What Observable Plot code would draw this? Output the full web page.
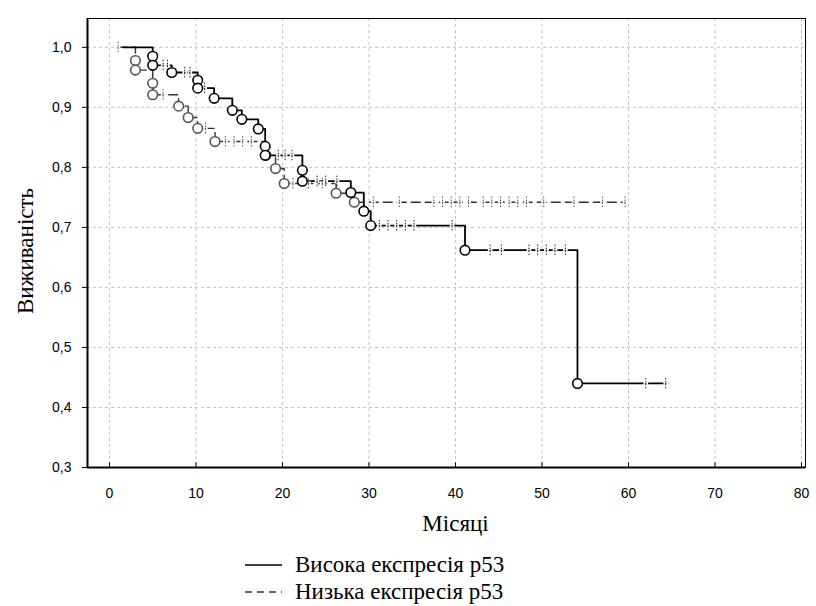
<!DOCTYPE html>
<html><head><meta charset="utf-8">
<script src="https://cdn.jsdelivr.net/npm/d3@7"></script>
<script src="https://cdn.jsdelivr.net/npm/@observablehq/plot@0.6"></script>
<style>
body{margin:0;background:#fff;}
#wrap{position:relative;width:816px;height:606px;background:#fff;}
.leg{position:absolute;font-family:"Liberation Serif","Times New Roman",serif;font-size:23px;line-height:26px;color:#000;display:flex;align-items:center;white-space:nowrap;}
.leg svg{margin-right:12px;}
</style></head><body>
<div id="wrap"><div id="chart"></div>
<div class="leg" style="left:245px;top:552px"><svg width="38" height="26"><line x1="0" x2="37" y1="13" y2="13" stroke="#000" stroke-width="1.6"/></svg><span id="l1"></span></div>
<div class="leg" style="left:245px;top:579px"><svg width="38" height="26"><line x1="0" x2="37" y1="13" y2="13" stroke="#333" stroke-width="1.4" stroke-dasharray="7,5"/></svg><span id="l2"></span></div>
</div>
<script>
// ---- data ----
const monthTicks = [0, 10, 20, 30, 40, 50, 60, 70, 80];
const survTicks = [0.3, 0.4, 0.5, 0.6, 0.7, 0.8, 0.9, 1.0];
const xTitle = "Місяці";
const yTitle = "Виживаність";
const highLabel = "Висока експресія p53";
const lowLabel = "Низька експресія p53";

// High p53 expression (solid)
const highStart = 1.6, highEnd = 64.5;
const highEventT = [5.0, 5.0, 7.2, 10.2, 10.2, 12.1, 14.2, 15.3, 17.2, 18.0, 18.0, 22.3, 22.3, 27.9, 29.4, 30.2, 41.1, 54.1];
const highEventS = [0.985, 0.970, 0.958, 0.945, 0.932, 0.915, 0.895, 0.880, 0.864, 0.835, 0.820, 0.795, 0.777, 0.758, 0.727, 0.703, 0.662, 0.440];
const highCensorT = [6.2, 6.7, 8.7, 9.3, 11.0, 19.5, 20.3, 21.1, 24.0, 25.0, 26.3, 31.2, 32.2, 33.2, 34.2, 35.2, 39.6, 44.0, 45.3, 48.5, 49.5, 50.5, 51.5, 52.7, 62.0, 64.3];

// Low p53 expression (dashed)
const lowStart = 1.0, lowEnd = 59.8;
const lowEventT = [3.0, 3.0, 5.0, 5.0, 8.0, 9.1, 10.2, 12.2, 18.1, 19.2, 20.2, 26.2, 28.3];
const lowEventS = [0.978, 0.962, 0.940, 0.921, 0.902, 0.883, 0.865, 0.843, 0.820, 0.798, 0.773, 0.757, 0.742];
const lowCensorT = [1.0, 6.2, 11.1, 13.4, 14.4, 15.4, 16.4, 21.2, 23.0, 24.6, 30.5, 33.5, 37.5, 38.5, 39.5, 40.5, 41.5, 43.2, 44.2, 45.2, 46.2, 47.2, 48.2, 50.2, 53.7, 57.0, 59.6];

// ---- build ----
function levelAt(t, evT, evS) { let s = 1; evT.forEach((et, i) => { if (et <= t) s = evS[i]; }); return s; }
function build(start, end, evT, evS, cT) {
  const events = evT.map((t, i) => ({t, s: evS[i]}));
  const line = [{t: start, s: 1}, ...events, {t: end, s: evS[evS.length - 1]}];
  const cens = cT.map(t => ({t, s: levelAt(t, evT, evS)}));
  return {events, line, cens};
}
const high = build(highStart, highEnd, highEventT, highEventS, highCensorT);
const low = build(lowStart, lowEnd, lowEventT, lowEventS, lowCensorT);

const xDomain = [-2.54, 80.46];
const yDomain = [0.3, 1.048];

function censorMarks(c, color) {
  return [
    Plot.dot(c, {x: "t", y: "s", symbol: "square", r: 2.6, fill: "#fff", stroke: null}),
    Plot.ruleX(c, {x: "t", y1: d => d.s - 0.009, y2: d => d.s + 0.009, stroke: color, strokeWidth: 1, strokeDasharray: "1.5,1.5"}),
    Plot.dot(c, {x: "t", y: "s", r: 0.7, fill: color, stroke: null})
  ];
}

const chart = Plot.plot({
  width: 816, height: 545,
  marginLeft: 87, marginRight: 11, marginTop: 18, marginBottom: 78,
  x: {domain: xDomain},
  y: {domain: yDomain},
  style: {fontFamily: "'Liberation Sans', Arial, sans-serif", fontSize: "14px", color: "#000", background: "#fff"},
  marks: [
    Plot.gridX(monthTicks, {stroke: "#b4b4b4", strokeOpacity: 1, strokeWidth: 0.8, strokeDasharray: "3,3"}),
    Plot.gridY(survTicks, {stroke: "#b4b4b4", strokeOpacity: 1, strokeWidth: 0.8, strokeDasharray: "3,3"}),
    Plot.axisX(monthTicks, {tickSize: 0, tickPadding: 21, tickFormat: d => String(d), label: null}),
    Plot.ruleX(monthTicks, {y1: yDomain[0], y2: yDomain[0] + 0.008, stroke: "#000", strokeWidth: 1}),
    Plot.axisY(survTicks, {tickSize: 5, tickPadding: 11, tickFormat: d => d.toFixed(1).replace(".", ","), label: null}),
    Plot.text([xTitle], {text: d => d, frameAnchor: "bottom", textAnchor: "middle", lineAnchor: "middle", dy: 56, dx: 9, fontFamily: "'Liberation Serif', 'Times New Roman', serif", fontSize: 23, fill: "#000"}),
    Plot.text([yTitle], {text: d => d, frameAnchor: "left", textAnchor: "middle", lineAnchor: "middle", dx: -62, dy: 8, rotate: -90, fontFamily: "'Liberation Serif', 'Times New Roman', serif", fontSize: 23, fill: "#000"}),
    Plot.line(low.line, {x: "t", y: "s", curve: "step-after", stroke: "#333", strokeWidth: 1.4, strokeDasharray: "9,5"}),
    Plot.line(high.line, {x: "t", y: "s", curve: "step-after", stroke: "#000", strokeWidth: 1.8}),
    ...censorMarks(low.cens, "#555"),
    ...censorMarks(high.cens, "#222"),
    Plot.dot(low.events, {x: "t", y: "s", r: 4.8, fill: "#fff", stroke: "#555", strokeWidth: 1.6}),
    Plot.dot(high.events, {x: "t", y: "s", r: 4.8, fill: "#fff", stroke: "#000", strokeWidth: 1.6}),
    Plot.frame({stroke: "#000", strokeWidth: 1}),
    Plot.ruleX([xDomain[0]], {stroke: "#000", strokeWidth: 2}),
    Plot.ruleY([yDomain[0]], {stroke: "#000", strokeWidth: 2})
  ]
});
document.getElementById("chart").appendChild(chart);
document.getElementById("l1").textContent = highLabel;
document.getElementById("l2").textContent = lowLabel;
</script>
</body></html>
